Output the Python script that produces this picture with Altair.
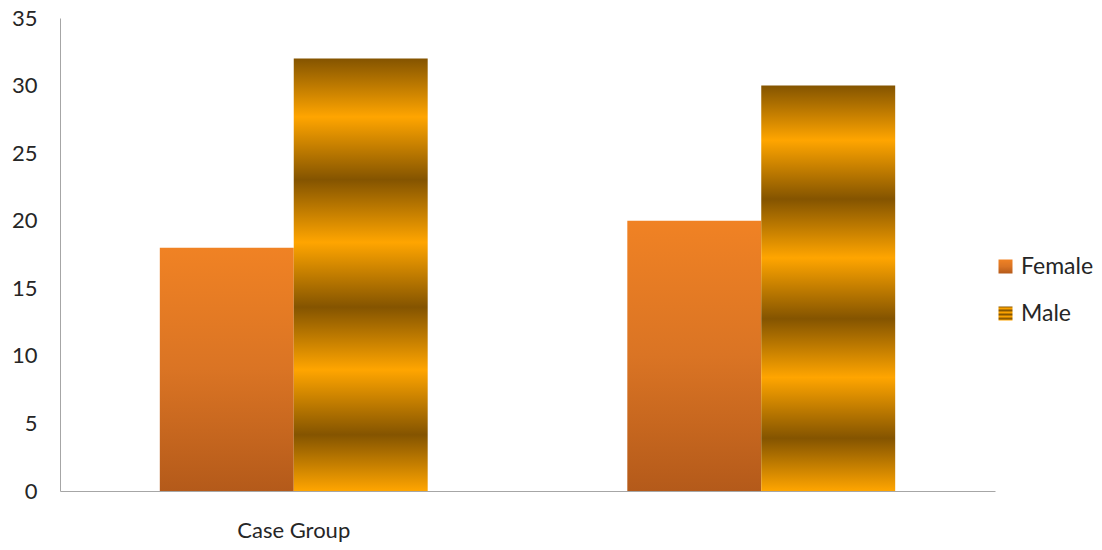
import altair as alt
import pandas as pd

# Values per group and series
groups = ["Case Group", " "]
series = ["Female", "Male"]
female = [18, 20]
male = [32, 30]
y_ticks = [0, 5, 10, 15, 20, 25, 30, 35]

rows = []
for g, f, m in zip(groups, female, male):
    rows.append({"group": g, "sex": "Female", "value": f})
    rows.append({"group": g, "sex": "Male", "value": m})
df = pd.DataFrame(rows)

# Fill styles: a soft orange fade, and banded gold stripes
female_stops = [(0, "#F08224"), (0.5, "#DA7424"), (1, "#B45A1A")]
male_stops = [
    (0.0, "#845400"), (0.135, "#FFA500"), (0.28, "#845400"), (0.425, "#FFA500"),
    (0.575, "#845400"), (0.72, "#FFA500"), (0.87, "#845400"), (1.0, "#FFA500"),
]


def gradient_expr(stops):
    parts = ", ".join(f"{{offset: {o}, color: '{c}'}}" for o, c in stops)
    return "{gradient: 'linear', x1: 0, y1: 0, x2: 0, y2: 1, stops: [" + parts + "]}"


fill_range = [alt.ExprRef(expr=gradient_expr(female_stops)),
              alt.ExprRef(expr=gradient_expr(male_stops))]

FONT = "Lato"
TEXT = "#262626"
AXIS_LINE = "#A6A6A6"

chart = (
    alt.Chart(df)
    .mark_bar()
    .encode(
        x=alt.X(
            "group:N",
            sort=groups,
            scale=alt.Scale(paddingInner=0.427, paddingOuter=0.2135),
            axis=alt.Axis(title=None, labelAngle=0, ticks=False, labelPadding=29,
                          domainColor=AXIS_LINE, labelFont=FONT, labelFontSize=22,
                          labelColor=TEXT),
        ),
        xOffset=alt.XOffset("sex:N", sort=series, scale=alt.Scale(paddingInner=0, paddingOuter=0)),
        y=alt.Y(
            "value:Q",
            scale=alt.Scale(domain=[0, 35], nice=False),
            axis=alt.Axis(title=None, values=y_ticks, ticks=False, grid=False, labelPadding=23,
                          domainColor=AXIS_LINE, labelFont=FONT, labelFontSize=22,
                          labelColor=TEXT),
        ),
        color=alt.Color(
            "sex:N",
            sort=series,
            scale=alt.Scale(domain=series, range=fill_range),
            legend=alt.Legend(
                title=None, orient="none", legendX=934, legendY=237, padding=0,
                symbolType="square", symbolSize=196, symbolStrokeWidth=0,
                labelFont=FONT, labelFontSize=23, labelColor=TEXT,
                labelOffset=4, rowPadding=23,
            ),
        ),
    )
    .properties(width=935, height=473)
    .configure(background="white", autosize=alt.AutoSizeParams(type="none"),
               padding={"left": 60, "top": 18, "right": 107, "bottom": 59})
    .configure_view(stroke=None)
)

chart.save("out.html", embed_options={"renderer": "svg", "actions": False})
